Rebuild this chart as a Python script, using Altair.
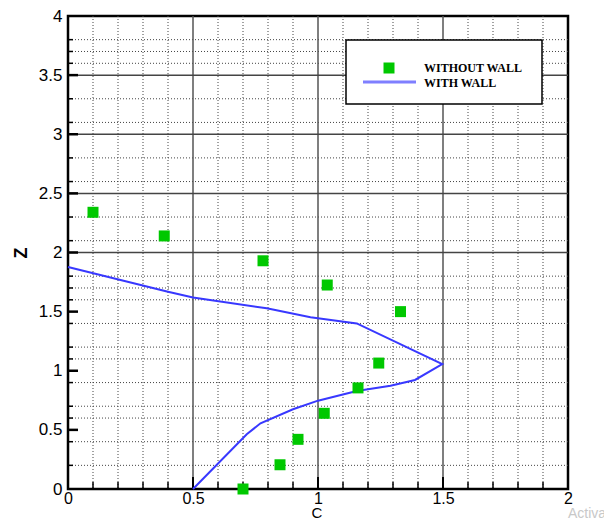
import altair as alt
import pandas as pd

W, H = 500, 473

# WITHOUT WALL (green squares)
without_c = [0.10, 0.385, 0.78, 1.037, 1.33, 1.243, 1.16, 1.025, 0.92, 0.848, 0.70]
without_z = [2.34, 2.14, 1.93, 1.725, 1.50, 1.065, 0.855, 0.64, 0.42, 0.205, 0.0]

# WITH WALL (blue line)
with_c = [0.0, 0.40, 0.50, 0.795, 0.97, 1.155, 1.497, 1.388, 1.29, 1.155, 1.0, 0.90, 0.77, 0.715, 0.50]
with_z = [1.877, 1.668, 1.62, 1.528, 1.452, 1.40, 1.057, 0.922, 0.874, 0.829, 0.747, 0.674, 0.556, 0.463, 0.0]

x_ticks = [0, 0.5, 1, 1.5, 2]
y_ticks = [0, 0.5, 1, 1.5, 2, 2.5, 3, 3.5, 4]
x_major = [0.5, 1.0, 1.5]
x_minor = [0.1, 0.2, 0.3, 0.4, 0.6, 0.7, 0.8, 0.9, 1.1, 1.2, 1.3, 1.4, 1.6, 1.7, 1.8, 1.9]
y_major_lines = [2.0, 2.5, 3.0, 3.5]
y_major_ticks = [0.5, 1.0, 1.5, 2.0, 2.5, 3.0, 3.5]
y_minor = [0.2, 0.4, 0.6, 0.7, 0.9, 1.1, 1.2, 1.4, 1.6, 1.7, 1.8, 2.1, 2.3, 2.6, 2.8, 3.1, 3.3, 3.6, 3.7, 3.8]

legend_labels = ["WITHOUT WALL", "WITH WALL"]
x_title = "C"
y_title = "Z"
watermark = "Activate"

GREEN = "#00c800"
BLUE = "#3838ff"

xs = alt.Scale(domain=[0, 2], nice=False, zero=False)
ys = alt.Scale(domain=[0, 4], nice=False, zero=False)

df_without = pd.DataFrame({"c": without_c, "z": without_z})
df_with = pd.DataFrame({"c": with_c, "z": with_z, "i": list(range(len(with_c)))})
one = pd.DataFrame({"a": [0]})


def vdf(vals):
    return pd.DataFrame({"v": vals})


x_axis = alt.Axis(values=x_ticks, labelExpr="format(datum.value, '~g')", ticks=False, grid=False,
                  domain=False, labelFont="Liberation Sans", labelFontSize=16, labelColor="black",
                  labelPadding=1, title=None, labelFlush=False, labelOverlap=False)
y_axis = alt.Axis(values=y_ticks, labelExpr="format(datum.value, '~g')", ticks=False, grid=False,
                  domain=False, labelFont="Liberation Sans", labelFontSize=17, labelColor="black",
                  labelPadding=6, title=None, labelFlush=False, labelOverlap=False)


def X(f):
    return alt.X(f, scale=xs, axis=x_axis)


def Y(f):
    return alt.Y(f, scale=ys, axis=y_axis)


# grid
vdot = alt.Chart(vdf(x_minor)).mark_rule(color="#444", strokeWidth=1, strokeDash=[1, 2]).encode(x=X("v:Q"))
hdot = alt.Chart(vdf(y_minor)).mark_rule(color="#444", strokeWidth=1, strokeDash=[1, 2]).encode(y=Y("v:Q"))
vsolid = alt.Chart(vdf(x_major)).mark_rule(color="#555", strokeWidth=1.5).encode(x=X("v:Q"))
hsolid = alt.Chart(vdf(y_major_lines)).mark_rule(color="#444", strokeWidth=1.5).encode(y=Y("v:Q"))

# inward ticks
xmaj_t = alt.Chart(vdf(x_major)).mark_rule(color="black", strokeWidth=2).encode(
    x=X("v:Q"), y=alt.value(H), y2=alt.value(H - 12))
xmin_t = alt.Chart(vdf(x_minor)).mark_rule(color="black", strokeWidth=1.5).encode(
    x=X("v:Q"), y=alt.value(H), y2=alt.value(H - 7))
ymaj_t = alt.Chart(vdf(y_major_ticks)).mark_rule(color="black", strokeWidth=2.5).encode(
    y=Y("v:Q"), x=alt.value(0), x2=alt.value(10))
ymin_t = alt.Chart(vdf(y_minor)).mark_rule(color="black", strokeWidth=1.5).encode(
    y=Y("v:Q"), x=alt.value(0), x2=alt.value(5))

# data
line = alt.Chart(df_with).mark_line(color=BLUE, strokeWidth=2).encode(
    x=X("c:Q"), y=Y("z:Q"), order="i:Q")
pts = alt.Chart(df_without).mark_square(color=GREEN, size=121, opacity=1).encode(
    x=X("c:Q"), y=Y("z:Q"))

# legend
box = alt.Chart(one).mark_rect(fill="white", stroke="black", strokeWidth=1.5).encode(
    x=alt.value(278), x2=alt.value(474), y=alt.value(24), y2=alt.value(88))
leg_sq = alt.Chart(one).mark_square(color=GREEN, size=121, opacity=1).encode(
    x=alt.value(321), y=alt.value(52))
leg_ln = alt.Chart(one).mark_rule(color="#7f7fff", strokeWidth=3).encode(
    x=alt.value(295), x2=alt.value(348), y=alt.value(66))
leg_t1 = alt.Chart(one).mark_text(align="left", baseline="alphabetic", font="Liberation Serif",
                                  fontSize=12, fontWeight="bold", color="black").encode(
    x=alt.value(356), y=alt.value(56), text=alt.value(legend_labels[0]))
leg_t2 = alt.Chart(one).mark_text(align="left", baseline="alphabetic", font="Liberation Serif",
                                  fontSize=12, fontWeight="bold", color="black").encode(
    x=alt.value(356), y=alt.value(71), text=alt.value(legend_labels[1]))

# axis titles
xt = alt.Chart(one).mark_text(align="center", baseline="alphabetic", font="Liberation Sans",
                              fontSize=15, color="black").encode(
    x=alt.value(249), y=alt.value(502), text=alt.value(x_title))
yt = alt.Chart(one).mark_text(align="center", baseline="middle", font="Liberation Sans",
                              fontSize=18, fontWeight="bold", color="black", angle=270).encode(
    x=alt.value(-46), y=alt.value(237), text=alt.value(y_title))

wm = alt.Chart(one).mark_text(align="left", baseline="alphabetic", font="Liberation Sans",
                              fontSize=14, color="#c8c8c8").encode(
    x=alt.value(500), y=alt.value(502), text=alt.value(watermark))

chart = alt.layer(
    vdot, hdot, vsolid, hsolid, xmaj_t, xmin_t, ymaj_t, ymin_t,
    line, pts, box, leg_sq, leg_ln, leg_t1, leg_t2, xt, yt, wm
).properties(
    width=W, height=H,
    autosize=alt.AutoSizeParams(type="none"),
    padding={"left": 60, "top": 8, "right": 36, "bottom": 31},
).configure_view(stroke="black", strokeWidth=2.5)

chart.save("out.html", embed_options={"renderer": "svg", "actions": False})
